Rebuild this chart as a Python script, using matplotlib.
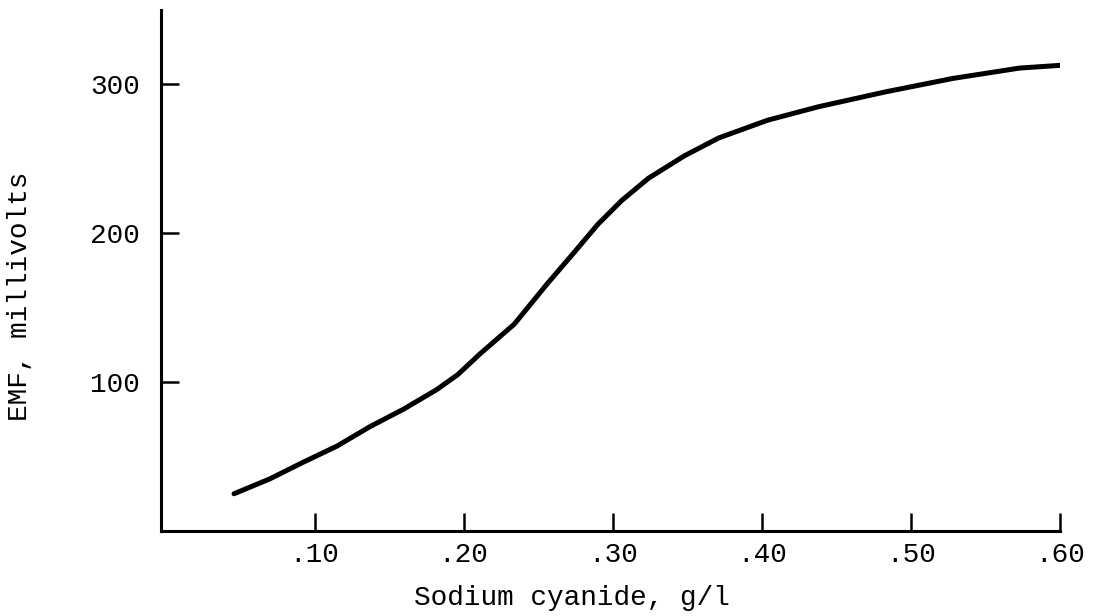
import matplotlib
matplotlib.use("Agg")
import matplotlib.pyplot as plt

# values
cyanide = [0.046, 0.070, 0.092, 0.115, 0.137, 0.160, 0.182, 0.196, 0.211, 0.234,
           0.256, 0.274, 0.290, 0.306, 0.324, 0.348, 0.371, 0.404, 0.438, 0.483,
           0.528, 0.573, 0.603]
emf = [25, 35, 46, 57, 70, 82, 95, 105, 119, 139,
       166, 187, 206, 222, 237, 252, 264, 276, 285, 295,
       304, 311, 313]

xticks = [0.10, 0.20, 0.30, 0.40, 0.50, 0.60]
xtick_labels = ['.10', '.20', '.30', '.40', '.50', '.60']
yticks = [100, 200, 300]

plt.rcParams['font.family'] = ['Liberation Mono', 'DejaVu Sans Mono']

fig = plt.figure(figsize=(11.07, 6.16), dpi=100)
ax = fig.add_axes([0.1454, 0.138, 0.8122, 0.8458])

ax.plot(cyanide, emf, color='black', lw=3.6, solid_capstyle='round', solid_joinstyle='round')

ax.set_xlim(-0.003, 0.60)
ax.set_ylim(0, 350)

for s in ['top', 'right']:
    ax.spines[s].set_visible(False)
for s in ['left', 'bottom']:
    ax.spines[s].set_linewidth(2.2)

ax.set_xticks(xticks)
ax.set_xticklabels(xtick_labels)
ax.set_yticks(yticks)
ax.tick_params(axis='both', direction='in', length=13, width=1.8, labelsize=20, colors='black')
ax.tick_params(axis='x', pad=8)
ax.tick_params(axis='y', pad=15)

ax.set_xlabel('Sodium cyanide, g/l', fontsize=20)
ax.set_ylabel('EMF, millivolts', fontsize=20)
ax.xaxis.set_label_coords(0.457, -0.104)
ax.yaxis.set_label_coords(-0.142, 0.45)

fig.savefig('out.png', dpi=100)
